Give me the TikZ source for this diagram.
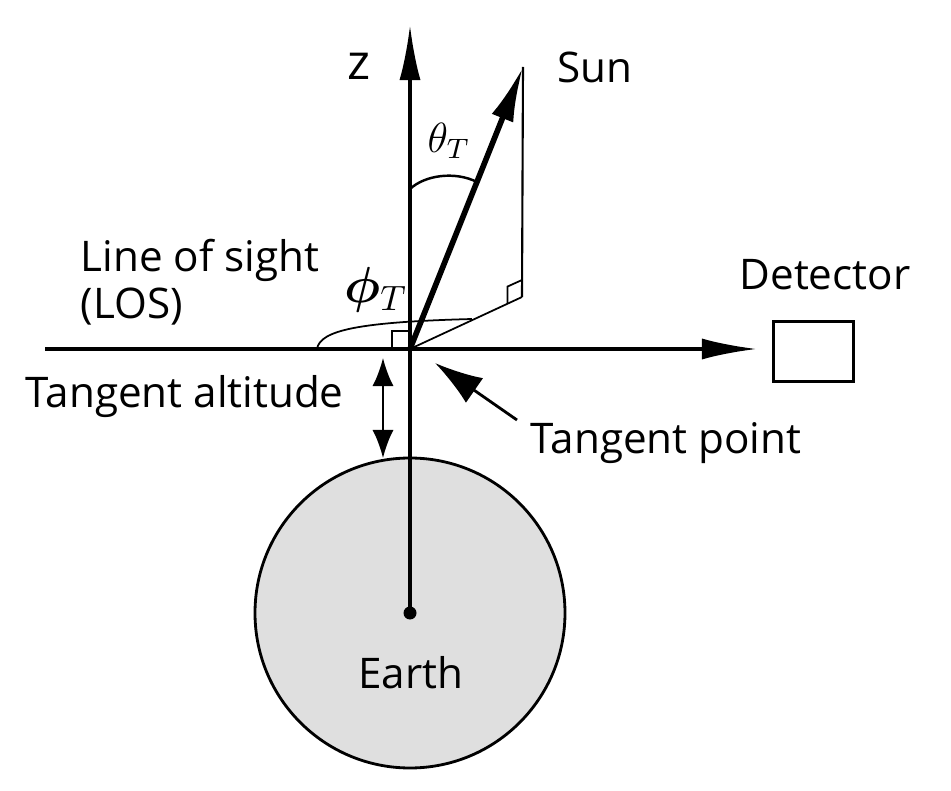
\documentclass[tikz,border=0pt]{standalone}
\usepackage{bm}
\usepackage{fontspec}
\setmainfont{Open Sans}
\usetikzlibrary{arrows.meta}

\tikzset{
  lbl/.style={font=\fontsize{12}{14}\selectfont, inner sep=0pt},
  axis/.style={line width=1pt},
  thin line/.style={line width=0.5pt},
  bigtip/.style={-{Latex[length=5.5mm,width=2.1mm]}},
}

\begin{document}
\begin{tikzpicture}[x=0.01cm, y=-0.01cm]
    \useasboundingbox (0,0) rectangle (951,791);

    % Key points
    \coordinate (O) at (410,349);
    \coordinate (zTop) at (410,25);
    \coordinate (losL) at (45,349);
    \coordinate (losR) at (757,349);
    \coordinate (sun) at (523,67);
    \coordinate (foot) at (522,297);
    \coordinate (C) at (410,613);

    % Earth
    \draw[line width=0.8pt, fill=gray!25] (C) circle (155);
    \fill (C) circle (6.5);
    \node[lbl, anchor=base] (earth) at (411,688) {Earth};

    % z axis and line of sight
    \draw[axis, bigtip] (C) -- (zTop);
    \draw[axis, bigtip] (losL) -- (losR);
    \node[anchor=base, inner sep=0pt, font=\fontsize{14}{16}\selectfont] (zlbl) at (359,80) {z};

    % Sun direction, its drop and projection
    \draw[line width=1.6pt, -{Latex[length=5.5mm,width=2.3mm]}] (O) -- (sun);
    \draw[line width=0.6pt] (sun) -- (foot);
    \draw[thin line] (O) -- (foot);
    \node[lbl, anchor=base west] (sunlbl) at (557,83) {Sun};

    % Right angle marks
    \draw[thin line] (O) ++(-18,0) -- ++(0,-18) -- ++(18,0);
    \draw[thin line] (foot) ++(0,-17) -- ++(-14.6,6.6) -- ++(0,17);

    % Angles
    \coordinate (thA) at (410,189);
    \coordinate (thB) at (477,182);
    \draw[line width=0.7pt] (thA) .. controls (425,175) and (455,171) .. (thB);
    \node[font=\fontsize{12}{14}\selectfont] (theta) at (449,141) {$\theta_T$};
    \coordinate (phA) at (317,349);
    \coordinate (phB) at (472,319);
    \draw[thin line] (phA) .. controls (320,330) and (360,322) .. (phB);
    \node[font=\fontsize{14}{16}\selectfont] (phi) at (376,290) {$\bm{\phi}_T$};

    % Line of sight label
    \node[lbl, anchor=base west] (los) at (80,272) {Line of sight};
    \node[lbl, anchor=base west] (losb) at (80,318) {(LOS)};

    % Tangent altitude
    \coordinate (altTop) at (383,358);
    \coordinate (altBot) at (383,458);
    \draw[thin line, {Latex[length=2.8mm,width=2.1mm]}-{Latex[length=2.8mm,width=2.1mm]}] (altTop) -- (altBot);
    \node[lbl, anchor=base west] (alt) at (25,407) {Tangent altitude};

    % Tangent point
    \coordinate (tpFrom) at (517,420);
    \coordinate (tpTo) at (435,363);
    \draw[line width=0.8pt, -{Latex[length=4.8mm,width=3mm]}] (tpFrom) -- (tpTo);
    \node[lbl, anchor=base west] (tp) at (530,453) {Tangent point};

    % Detector
    \node[draw, line width=0.9pt, inner sep=0pt, minimum width=0.8cm, minimum height=0.6cm] (det) at (813.5,351.5) {};
    \node[lbl, anchor=base] (detlbl) at (825,290) {Detector};
\end{tikzpicture}
\end{document}
